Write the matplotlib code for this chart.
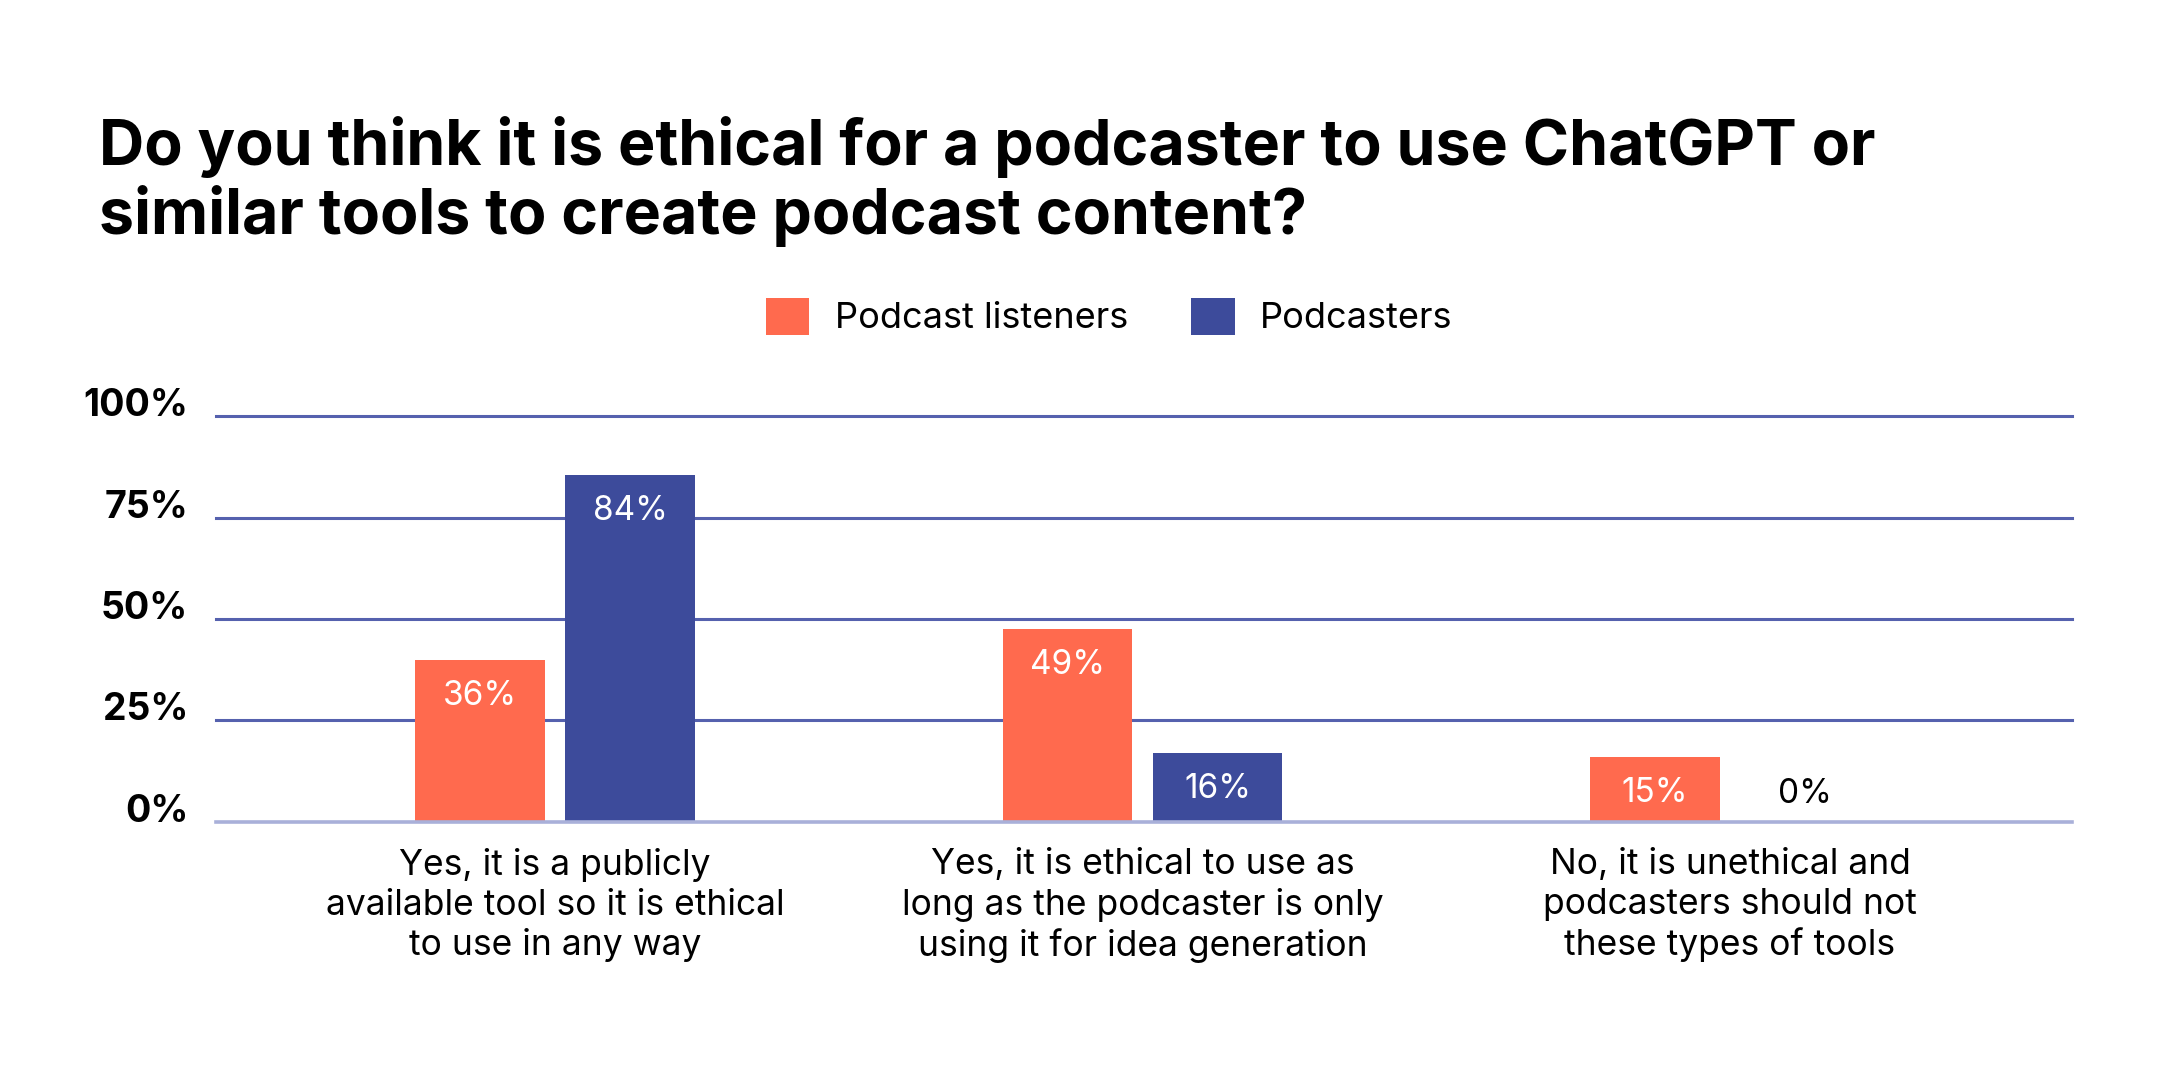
import matplotlib
matplotlib.use("Agg")
import matplotlib.pyplot as plt
import numpy as np

plt.rcParams['font.family'] = ['Inter', 'DejaVu Sans']

categories = [
    "Yes, it is a publicly\navailable tool so it is ethical\nto use in any way",
    "Yes, it is ethical to use as\nlong as the podcaster is only\nusing it for idea generation",
    "No, it is unethical and\npodcasters should not\nthese types of tools",
]
series_names = ["Podcast listeners", "Podcasters"]
# bar heights as drawn in the picture, and the printed labels
listeners = [40, 47.5, 16]
podcasters = [85.5, 17, 0]
listeners_lbl = ["36%", "49%", "15%"]
podcasters_lbl = ["84%", "16%", "0%"]
yticks = [0, 25, 50, 75, 100]
ytick_labels = ["0%", "25%", "50%", "75%", "100%"]

orange = "#FF6A4E"
blue = "#3D4B9B"
grid_col = "#5561AE"
base_col = "#A9B0D9"

fig = plt.figure(figsize=(21.58, 10.8), dpi=100)
ax = fig.add_axes([0.1001, 0.2389, 0.860, 0.3759])

x = np.arange(len(categories))
w = 0.22
off = 0.1276
b1 = ax.bar(x - off, listeners, w, color=orange, label=series_names[0], zorder=3)
b2 = ax.bar(x + off, podcasters, w, color=blue, label=series_names[1], zorder=3)

ax.set_xlim(-0.577, 2.582)
ax.set_ylim(0, 100)

for v in yticks[1:]:
    ax.axhline(v, color=grid_col, lw=2.2, zorder=1, clip_on=False)
ax.axhline(0, color=base_col, lw=2.6, zorder=4, clip_on=False)

for s in ax.spines.values():
    s.set_visible(False)

ax.set_yticks(yticks)
ax.set_yticklabels(ytick_labels, fontsize=27, fontweight='bold')
ax.tick_params(axis='y', length=0, pad=20)
plt.setp(ax.get_yticklabels(), va='baseline')

ax.set_xticks(x)
ax.set_xticklabels(categories, fontsize=25.5, linespacing=1.24)
ax.tick_params(axis='x', length=0, pad=19)

for bars, lbls in [(b1, listeners_lbl), (b2, podcasters_lbl)]:
    for r, t in zip(bars, lbls):
        h = r.get_height()
        y = max(h - 8.9, 6.9)
        col = 'white' if h > 0 else 'black'
        ax.text(r.get_x() + r.get_width() / 2, y, t, ha='center', va='center',
                fontsize=24, color=col, zorder=5)

fig.text(0.046, 0.847, "Do you think it is ethical for a podcaster to use ChatGPT or",
         fontsize=45.1, fontweight='bold', va='baseline')
fig.text(0.046, 0.783, "similar tools to create podcast content?",
         fontsize=45.1, fontweight='bold', va='baseline')

leg = ax.legend(loc='center', bbox_to_anchor=(0.514, 0.707), bbox_transform=fig.transFigure,
                ncol=2, frameon=False, fontsize=26, handlelength=1.2, handleheight=1.2,
                handletextpad=0.7, columnspacing=1.75)

fig.savefig("out.png", dpi=100, facecolor='white')
